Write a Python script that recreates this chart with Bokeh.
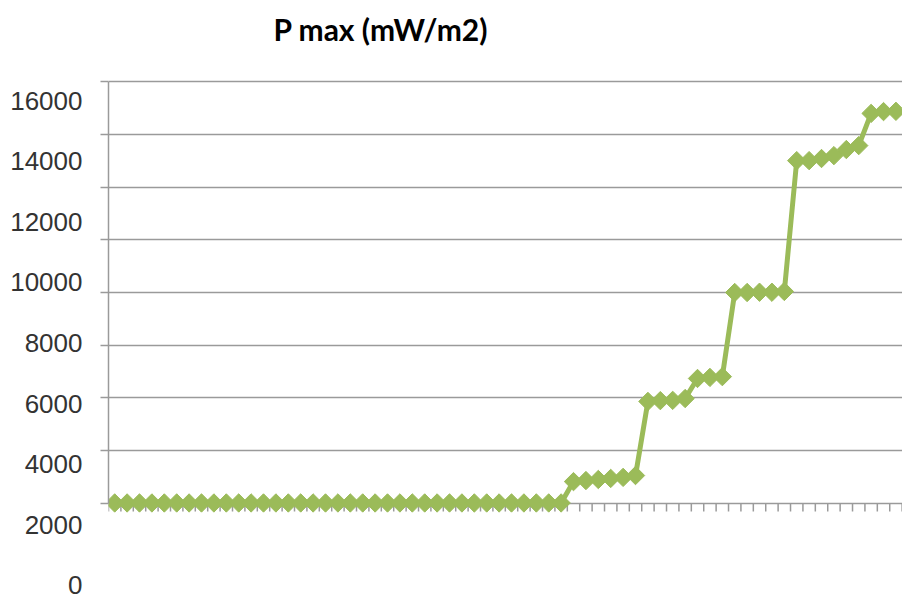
import math
from bokeh.plotting import figure
from bokeh.models import Range1d, FixedTicker, LinearAxis, CustomJSTickFormatter, ColumnDataSource, Title
from bokeh.embed import file_html
from bokeh.resources import INLINE

title_text = "P max (mW/m2)"
y_ticks = [0, 2000, 4000, 6000, 8000, 10000, 12000, 14000, 16000]
n_categories = 64

p_max = [
    20, 20, 20, 20, 20, 20, 20, 20, 20, 20,
    20, 20, 20, 20, 20, 20, 20, 20, 20, 20,
    20, 20, 20, 20, 20, 20, 20, 20, 20, 20,
    20, 20, 20, 20, 20, 20, 20,
    830, 870, 910, 950, 990, 1060,
    3870, 3900, 3910, 3980,
    4740, 4780, 4810,
    8000, 8000, 8010, 8010, 8040,
    13000, 13000, 13080, 13190, 13420, 13570,
    14790, 14860, 14870,
]

x_pos = [i + 0.5 for i in range(len(p_max))]
boundaries = list(range(n_categories + 1))

GREEN = "#9BBB59"
GRID = "#9a9a9a"

y_start, y_end = -3754, 16114
frame_h = 524
px_per_unit = frame_h / (y_end - y_start)
tick_len = 8 / px_per_unit

p = figure(width=902, height=602, output_backend="svg", toolbar_location=None,
           x_range=Range1d(0, 64.03), y_range=Range1d(y_start, y_end),
           x_axis_location=None, min_border_left=108, min_border_right=0,
           min_border_top=78, min_border_bottom=0)
p.extra_y_ranges = {"lbl": Range1d(-561, 16726)}
p.outline_line_color = None
p.background_fill_color = "white"
p.border_fill_color = "white"

ya = p.yaxis[0]
ya.ticker = FixedTicker(ticks=y_ticks)
ya.bounds = (0, 16000)
ya.axis_line_color = GRID
ya.axis_line_width = 1.5
ya.major_tick_line_color = GRID
ya.major_tick_line_width = 1.5
ya.major_tick_out = 8
ya.major_tick_in = 0
ya.minor_tick_line_color = None
ya.formatter = CustomJSTickFormatter(code="return ''")
ya.major_label_standoff = 0

la = LinearAxis(y_range_name="lbl", ticker=FixedTicker(ticks=y_ticks))
la.axis_line_color = None
la.major_tick_line_color = None
la.minor_tick_line_color = None
la.major_tick_out = 0
la.major_tick_in = 0
la.major_label_standoff = 18
la.major_label_text_font = "Liberation Sans"
la.major_label_text_font_size = "26px"
la.major_label_text_color = "#333333"
p.add_layout(la, "left")

p.xgrid.visible = False
p.ygrid.ticker = FixedTicker(ticks=y_ticks)
p.ygrid.grid_line_color = GRID
p.ygrid.grid_line_width = 1.5

src_ticks = ColumnDataSource(dict(x=boundaries, y0=[0] * len(boundaries), y1=[-tick_len] * len(boundaries)))
p.segment(x0="x", y0="y0", x1="x", y1="y1", source=src_ticks, line_color=GRID, line_width=1.5)

src = ColumnDataSource(dict(x=x_pos, y=p_max))
p.line("x", "y", source=src, line_color=GREEN, line_width=5)
p.scatter("x", "y", source=src, marker="square", angle=math.pi / 4, size=13,
          fill_color=GREEN, line_color=GREEN, line_width=1)

# thin spacer placed between the frame and the title
spacer = Title(text=" ", text_font_size="1px", standoff=17)
p.add_layout(spacer, "above")

p.title.text = title_text
p.title.align = "left"
p.title.offset = 165
p.title.vertical_align = "top"
p.title.standoff = 20
p.title.text_font = "Lato"
p.title.text_font_style = "bold"
p.title.text_font_size = "30px"
p.title.text_color = "black"

open("out.html", "w").write(file_html(p, INLINE))
